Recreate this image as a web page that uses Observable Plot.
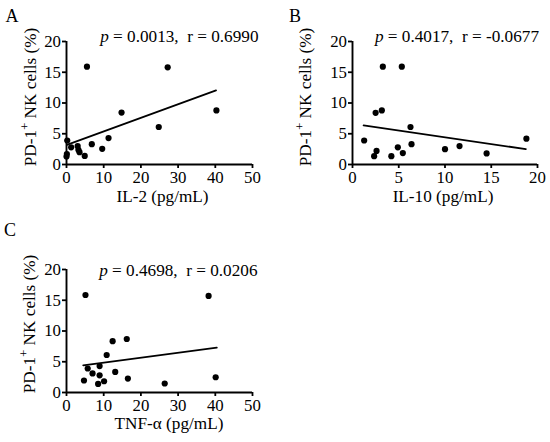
<!DOCTYPE html>
<html><head><meta charset="utf-8">
<script src="https://cdn.jsdelivr.net/npm/d3@7"></script>
<script src="https://cdn.jsdelivr.net/npm/@observablehq/plot@0.6"></script>
<style>
body{margin:0;background:#fff;}
#wrap{position:relative;width:550px;height:442px;background:#fff;overflow:hidden;}
#wrap svg{position:absolute;overflow:visible;}
</style></head><body><div id="wrap"></div>
<script>
// ---- data ----
const yTicks = [0, 5, 10, 15, 20];
const yTitle = "PD-1+ NK cells (%)";

const il2X = [0, 0.1, 0.2, 1.25, 3.0, 3.2, 3.5, 4.9, 5.5, 6.8, 9.6, 11.3, 14.8, 24.8, 27.2, 40.3];
const il2Y = [1.3, 1.7, 3.9, 2.8, 3.0, 2.4, 2.0, 1.4, 15.9, 3.3, 2.55, 4.3, 8.45, 6.1, 15.8, 8.8];
const il2FitX = [0.1, 40.2];
const il2FitY = [3.2, 12.05];
const il2Ticks = [0, 10, 20, 30, 40, 50];

const il10X = [1.26, 2.34, 2.6, 2.5, 3.17, 3.28, 5.33, 4.2, 4.9, 5.44, 6.27, 6.38, 10.0, 11.57, 14.5, 18.8];
const il10Y = [3.9, 1.36, 2.2, 8.4, 8.8, 15.9, 15.9, 1.36, 2.8, 1.85, 6.1, 3.3, 2.5, 3.0, 1.8, 4.2];
const il10FitX = [1.2, 18.74];
const il10FitY = [6.36, 2.5];
const il10Ticks = [0, 5, 10, 15, 20];

const tnfX = [5.1, 38.2, 12.4, 16.2, 10.8, 5.7, 8.9, 7.0, 8.9, 4.7, 8.5, 10.1, 13.1, 16.5, 26.4, 40.1];
const tnfY = [15.85, 15.7, 8.35, 8.7, 6.1, 3.9, 4.3, 3.1, 2.8, 1.95, 1.4, 1.83, 3.34, 2.26, 1.46, 2.48];
const tnfFitX = [4.5, 40.4];
const tnfFitY = [4.42, 7.28];
const tnfTicks = [0, 10, 20, 30, 40, 50];

const panelLabels = ["A", "B", "C"];
const xTitles = ["IL-2 (pg/mL)", "IL-10 (pg/mL)", "TNF-α (pg/mL)"];
const stats = ["p = 0.0013,  r = 0.6990", "p = 0.4017,  r = -0.0677", "p = 0.4698,  r = 0.0206"];

// ---- drawing ----
const FONT = "'Liberation Serif', 'Times New Roman', serif";
const SVGNS = "http://www.w3.org/2000/svg";

function panel(o) {
  const pts = o.x.map((v, i) => ({x: v, y: o.y[i]}));
  const fit = o.fitX.map((v, i) => ({x: v, y: o.fitY[i]}));
  const svg = Plot.plot({
    width: o.width, height: o.height,
    marginLeft: o.ml, marginRight: o.mr, marginTop: o.mt, marginBottom: o.mb,
    style: {fontFamily: FONT, fontSize: "16.8px", color: "#000", background: "transparent"},
    x: {domain: [o.ticks[0], o.ticks[o.ticks.length - 1]]},
    y: {domain: [0, 20]},
    marks: [
      Plot.axisX({ticks: o.ticks, tickSize: 4, tickPadding: 3, label: null, strokeWidth: 1.8, fontSize: 16.8, tickFormat: d => String(d)}),
      Plot.axisY({ticks: yTicks, tickSize: 4, tickPadding: 1.5, label: null, strokeWidth: 1.8, fontSize: 16.8, tickFormat: d => String(d)}),
      Plot.ruleX([o.ticks[0]], {stroke: "#000", strokeWidth: 1.9}),
      Plot.ruleY([0], {stroke: "#000", strokeWidth: 1.9}),
      Plot.line(fit, {x: "x", y: "y", stroke: "#000", strokeWidth: 1.8}),
      Plot.dot(pts, {x: "x", y: "y", r: 3.1, fill: "#000", stroke: "none"}),
      Plot.text([o.xTitle], {frameAnchor: "bottom", text: d => d, dx: o.xtDx, dy: o.xtDy, lineAnchor: "bottom", fontSize: 17.2, fill: "#000"}),
      Plot.text([yTitle], {frameAnchor: "left", text: d => d, rotate: -90, dx: o.ytDx, dy: o.ytDy, lineAnchor: "bottom", textAnchor: "middle", fontSize: 17.2, fill: "#000"}),
      Plot.text([o.stat], {frameAnchor: "top-right", text: d => d, dx: o.stDx, dy: o.stDy, lineAnchor: "bottom", textAnchor: "end", fontSize: 17.2, fill: "#000"}),
      Plot.text([o.label], {frameAnchor: "top-left", text: d => d, dx: o.lbDx, dy: o.lbDy, lineAnchor: "bottom", textAnchor: "start", fontSize: 18, fill: "#000"})
    ]
  });
  svg.style.left = o.left + "px";
  svg.style.top = o.top + "px";
  // rich text: superscript + and italic p
  svg.querySelectorAll("text").forEach(t => {
    if (t.textContent === yTitle) {
      t.textContent = "";
      const a = document.createElementNS(SVGNS, "tspan"); a.textContent = "PD-1";
      const b = document.createElementNS(SVGNS, "tspan"); b.textContent = "+"; b.setAttribute("dy", "-7"); b.setAttribute("font-size", "13");
      const c = document.createElementNS(SVGNS, "tspan"); c.textContent = " NK cells (%)"; c.setAttribute("dy", "7");
      t.append(a, b, c);
      t.style.whiteSpace = "pre";
    } else if (t.textContent === o.stat) {
      t.textContent = "";
      const a = document.createElementNS(SVGNS, "tspan"); a.textContent = "p"; a.setAttribute("font-style", "italic");
      const b = document.createElementNS(SVGNS, "tspan"); b.textContent = o.stat.slice(1);
      t.append(a, b);
      t.style.whiteSpace = "pre";
    }
  });
  document.getElementById("wrap").appendChild(svg);
}

panel({x: il2X, y: il2Y, fitX: il2FitX, fitY: il2FitY, ticks: il2Ticks, xTitle: xTitles[0], stat: stats[0], label: panelLabels[0],
  left: 0, top: 0, width: 275, height: 210, ml: 66, mr: 23, mt: 41, mb: 46,
  xtDx: 3, xtDy: 37.7, ytDx: -30.5, ytDy: -6, stDx: 6, stDy: 0, lbDx: -61, lbDy: -20});
panel({x: il10X, y: il10Y, fitX: il10FitX, fitY: il10FitY, ticks: il10Ticks, xTitle: xTitles[1], stat: stats[1], label: panelLabels[1],
  left: 275, top: 0, width: 275, height: 210, ml: 77, mr: 13, mt: 41, mb: 46,
  xtDx: -2, xtDy: 37.7, ytDx: -41.5, ytDy: -6, stDx: 1.5, stDy: 0, lbDx: -63.5, lbDy: -20});
panel({x: tnfX, y: tnfY, fitX: tnfFitX, fitY: tnfFitY, ticks: tnfTicks, xTitle: xTitles[2], stat: stats[2], label: panelLabels[2],
  left: 0, top: 220, width: 275, height: 222, ml: 66, mr: 23, mt: 49, mb: 50,
  xtDx: 9.5, xtDy: 36.6, ytDx: -31.7, ytDy: -7, stDx: 5, stDy: 6.3, lbDx: -62.5, lbDy: -33.5});
</script></body></html>
